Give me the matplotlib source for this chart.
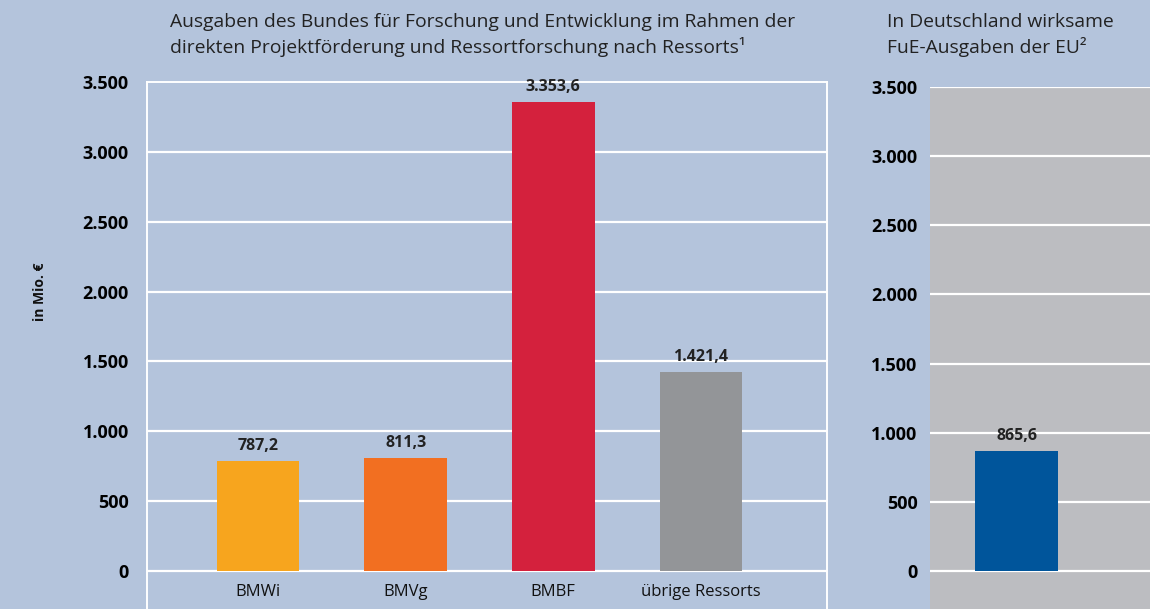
import matplotlib.pyplot as plt
import numpy as np

plt.rcParams['font.family'] = ['Open Sans', 'DejaVu Sans']

categories = ['BMWi', 'BMVg', 'BMBF', 'übrige Ressorts']
values = [787.2, 811.3, 3353.6, 1421.4]
labels = ['787,2', '811,3', '3.353,6', '1.421,4']
colors = ['#F7A51E', '#F26F21', '#D4213D', '#939598']

eu_value = [865.6]
eu_label = ['865,6']

yticks = [0, 500, 1000, 1500, 2000, 2500, 3000, 3500]
yticklabels = ['0', '500', '1.000', '1.500', '2.000', '2.500', '3.000', '3.500']

bg = '#B4C4DC'
fig = plt.figure(figsize=(11.5, 6.09), dpi=100, facecolor=bg)

# left panel: Bundesressorts
ax = fig.add_axes([147/1150, 0, 680/1150, 527/609])
ax.set_facecolor(bg)
x = np.arange(len(categories))
bars = ax.bar(x, values, 0.56, color=colors, zorder=3)
ax.set_xlim(-0.753, 3.855)
ax.set_ylim(-272, 3500)
ax.set_yticks(yticks)
ax.set_yticklabels(yticklabels, fontweight='bold', fontsize=13)
ax.tick_params(axis='y', length=0, pad=13)
ax.set_xticks([])
for y in yticks[:-1]:
    ax.axhline(y, color='white', lw=1.6, zorder=1)
for s in ['left', 'right', 'top']:
    ax.spines[s].set_color('white')
    ax.spines[s].set_linewidth(1.4)
ax.spines['bottom'].set_visible(False)
for b, lab in zip(bars, labels):
    ax.text(b.get_x() + b.get_width()/2, b.get_height() + 50, lab,
            ha='center', va='bottom', fontsize=11.5, fontweight='bold', color='#222222')
for xi, c in zip(x, categories):
    ax.text(xi, -150, c, ha='center', va='center', fontsize=12, color='#111111')

# right panel: EU
ax2 = fig.add_axes([930/1150, 0, 220/1150, 522/609])
ax2.set_facecolor('#BCBDC1')
b2 = ax2.bar([0], eu_value, 0.56, color='#00559B', zorder=3)
ax2.set_xlim(-0.586, 0.9)
ax2.set_ylim(-274, 3500)
ax2.set_yticks(yticks)
ax2.set_yticklabels(yticklabels, fontweight='bold', fontsize=13)
ax2.tick_params(axis='y', length=0, pad=9)
ax2.set_xticks([])
for y in yticks:
    ax2.axhline(y, color='white', lw=1.6, zorder=1)
for s in ax2.spines.values():
    s.set_visible(False)
ax2.text(0, eu_value[0] + 50, eu_label[0], ha='center', va='bottom',
         fontsize=11.5, fontweight='bold', color='#222222')

fig.text(40/1150, 1 - 292/609, 'in Mio. €', rotation=90, ha='center', va='center',
         fontsize=10, fontweight='bold', color='#111111')

fig.text(170/1150, 1 - 13/609,
         'Ausgaben des Bundes für Forschung und Entwicklung im Rahmen der\n'
         'direkten Projektförderung und Ressortforschung nach Ressorts¹',
         ha='left', va='top', fontsize=13.9, color='#222222', linespacing=1.35)
fig.text(887/1150, 1 - 13/609,
         'In Deutschland wirksame\nFuE-Ausgaben der EU²',
         ha='left', va='top', fontsize=13.9, color='#222222', linespacing=1.35)

fig.savefig('out.png', dpi=100, facecolor=bg)
